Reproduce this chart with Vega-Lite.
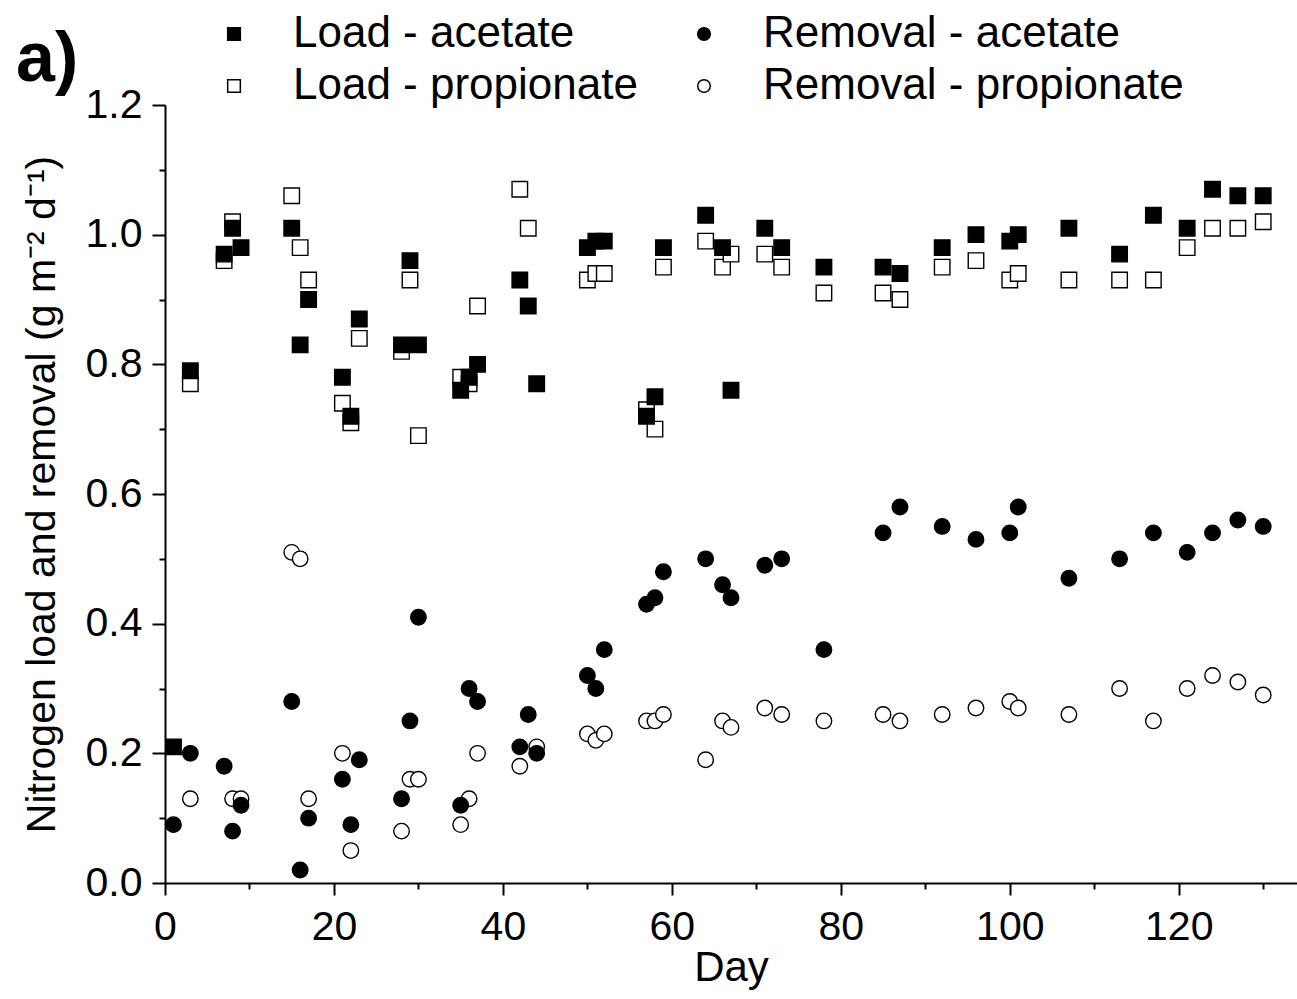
{
  "$schema": "https://vega.github.io/schema/vega-lite/v6.json",
  "width": 1132,
  "height": 778,
  "autosize": {"type": "none"},
  "padding": {"left": 165, "top": 105, "right": 0, "bottom": 116},
  "config": {
    "view": {"stroke": null},
    "font": "Liberation Sans",
    "axis": {
      "grid": false,
      "domainColor": "black",
      "domainWidth": 2,
      "tickColor": "black",
      "tickWidth": 2,
      "labelColor": "black",
      "titleColor": "black",
      "labelFont": "Liberation Sans",
      "titleFont": "Liberation Sans",
      "titleFontWeight": "normal",
      "labelOverlap": false,
      "labelFlush": false
    }
  },
  "data": {
    "values": [
      {"day": 3, "value": 0.77, "series": "Load - propionate"},
      {"day": 7, "value": 0.96, "series": "Load - propionate"},
      {"day": 8, "value": 1.02, "series": "Load - propionate"},
      {"day": 15, "value": 1.06, "series": "Load - propionate"},
      {"day": 16, "value": 0.98, "series": "Load - propionate"},
      {"day": 17, "value": 0.93, "series": "Load - propionate"},
      {"day": 21, "value": 0.74, "series": "Load - propionate"},
      {"day": 22, "value": 0.71, "series": "Load - propionate"},
      {"day": 23, "value": 0.84, "series": "Load - propionate"},
      {"day": 28, "value": 0.82, "series": "Load - propionate"},
      {"day": 29, "value": 0.93, "series": "Load - propionate"},
      {"day": 30, "value": 0.69, "series": "Load - propionate"},
      {"day": 35, "value": 0.78, "series": "Load - propionate"},
      {"day": 36, "value": 0.77, "series": "Load - propionate"},
      {"day": 37, "value": 0.89, "series": "Load - propionate"},
      {"day": 42, "value": 1.07, "series": "Load - propionate"},
      {"day": 43, "value": 1.01, "series": "Load - propionate"},
      {"day": 50, "value": 0.93, "series": "Load - propionate"},
      {"day": 51, "value": 0.94, "series": "Load - propionate"},
      {"day": 52, "value": 0.94, "series": "Load - propionate"},
      {"day": 57, "value": 0.73, "series": "Load - propionate"},
      {"day": 58, "value": 0.70, "series": "Load - propionate"},
      {"day": 59, "value": 0.95, "series": "Load - propionate"},
      {"day": 64, "value": 0.99, "series": "Load - propionate"},
      {"day": 66, "value": 0.95, "series": "Load - propionate"},
      {"day": 67, "value": 0.97, "series": "Load - propionate"},
      {"day": 71, "value": 0.97, "series": "Load - propionate"},
      {"day": 73, "value": 0.95, "series": "Load - propionate"},
      {"day": 78, "value": 0.91, "series": "Load - propionate"},
      {"day": 85, "value": 0.91, "series": "Load - propionate"},
      {"day": 87, "value": 0.90, "series": "Load - propionate"},
      {"day": 92, "value": 0.95, "series": "Load - propionate"},
      {"day": 96, "value": 0.96, "series": "Load - propionate"},
      {"day": 100, "value": 0.93, "series": "Load - propionate"},
      {"day": 101, "value": 0.94, "series": "Load - propionate"},
      {"day": 107, "value": 0.93, "series": "Load - propionate"},
      {"day": 113, "value": 0.93, "series": "Load - propionate"},
      {"day": 117, "value": 0.93, "series": "Load - propionate"},
      {"day": 121, "value": 0.98, "series": "Load - propionate"},
      {"day": 124, "value": 1.01, "series": "Load - propionate"},
      {"day": 127, "value": 1.01, "series": "Load - propionate"},
      {"day": 130, "value": 1.02, "series": "Load - propionate"},

      {"day": 3, "value": 0.13, "series": "Removal - propionate"},
      {"day": 8, "value": 0.13, "series": "Removal - propionate"},
      {"day": 9, "value": 0.13, "series": "Removal - propionate"},
      {"day": 15, "value": 0.51, "series": "Removal - propionate"},
      {"day": 16, "value": 0.50, "series": "Removal - propionate"},
      {"day": 17, "value": 0.13, "series": "Removal - propionate"},
      {"day": 21, "value": 0.20, "series": "Removal - propionate"},
      {"day": 22, "value": 0.05, "series": "Removal - propionate"},
      {"day": 28, "value": 0.08, "series": "Removal - propionate"},
      {"day": 29, "value": 0.16, "series": "Removal - propionate"},
      {"day": 30, "value": 0.16, "series": "Removal - propionate"},
      {"day": 35, "value": 0.09, "series": "Removal - propionate"},
      {"day": 36, "value": 0.13, "series": "Removal - propionate"},
      {"day": 37, "value": 0.20, "series": "Removal - propionate"},
      {"day": 42, "value": 0.18, "series": "Removal - propionate"},
      {"day": 44, "value": 0.21, "series": "Removal - propionate"},
      {"day": 50, "value": 0.23, "series": "Removal - propionate"},
      {"day": 51, "value": 0.22, "series": "Removal - propionate"},
      {"day": 52, "value": 0.23, "series": "Removal - propionate"},
      {"day": 57, "value": 0.25, "series": "Removal - propionate"},
      {"day": 58, "value": 0.25, "series": "Removal - propionate"},
      {"day": 59, "value": 0.26, "series": "Removal - propionate"},
      {"day": 64, "value": 0.19, "series": "Removal - propionate"},
      {"day": 66, "value": 0.25, "series": "Removal - propionate"},
      {"day": 67, "value": 0.24, "series": "Removal - propionate"},
      {"day": 71, "value": 0.27, "series": "Removal - propionate"},
      {"day": 73, "value": 0.26, "series": "Removal - propionate"},
      {"day": 78, "value": 0.25, "series": "Removal - propionate"},
      {"day": 85, "value": 0.26, "series": "Removal - propionate"},
      {"day": 87, "value": 0.25, "series": "Removal - propionate"},
      {"day": 92, "value": 0.26, "series": "Removal - propionate"},
      {"day": 96, "value": 0.27, "series": "Removal - propionate"},
      {"day": 100, "value": 0.28, "series": "Removal - propionate"},
      {"day": 101, "value": 0.27, "series": "Removal - propionate"},
      {"day": 107, "value": 0.26, "series": "Removal - propionate"},
      {"day": 113, "value": 0.30, "series": "Removal - propionate"},
      {"day": 117, "value": 0.25, "series": "Removal - propionate"},
      {"day": 121, "value": 0.30, "series": "Removal - propionate"},
      {"day": 124, "value": 0.32, "series": "Removal - propionate"},
      {"day": 127, "value": 0.31, "series": "Removal - propionate"},
      {"day": 130, "value": 0.29, "series": "Removal - propionate"},

      {"day": 1, "value": 0.21, "series": "Load - acetate"},
      {"day": 3, "value": 0.79, "series": "Load - acetate"},
      {"day": 7, "value": 0.97, "series": "Load - acetate"},
      {"day": 8, "value": 1.01, "series": "Load - acetate"},
      {"day": 9, "value": 0.98, "series": "Load - acetate"},
      {"day": 15, "value": 1.01, "series": "Load - acetate"},
      {"day": 16, "value": 0.83, "series": "Load - acetate"},
      {"day": 17, "value": 0.90, "series": "Load - acetate"},
      {"day": 21, "value": 0.78, "series": "Load - acetate"},
      {"day": 22, "value": 0.72, "series": "Load - acetate"},
      {"day": 23, "value": 0.87, "series": "Load - acetate"},
      {"day": 28, "value": 0.83, "series": "Load - acetate"},
      {"day": 29, "value": 0.96, "series": "Load - acetate"},
      {"day": 30, "value": 0.83, "series": "Load - acetate"},
      {"day": 35, "value": 0.76, "series": "Load - acetate"},
      {"day": 36, "value": 0.78, "series": "Load - acetate"},
      {"day": 37, "value": 0.80, "series": "Load - acetate"},
      {"day": 42, "value": 0.93, "series": "Load - acetate"},
      {"day": 43, "value": 0.89, "series": "Load - acetate"},
      {"day": 44, "value": 0.77, "series": "Load - acetate"},
      {"day": 50, "value": 0.98, "series": "Load - acetate"},
      {"day": 51, "value": 0.99, "series": "Load - acetate"},
      {"day": 52, "value": 0.99, "series": "Load - acetate"},
      {"day": 57, "value": 0.72, "series": "Load - acetate"},
      {"day": 58, "value": 0.75, "series": "Load - acetate"},
      {"day": 59, "value": 0.98, "series": "Load - acetate"},
      {"day": 64, "value": 1.03, "series": "Load - acetate"},
      {"day": 66, "value": 0.98, "series": "Load - acetate"},
      {"day": 67, "value": 0.76, "series": "Load - acetate"},
      {"day": 71, "value": 1.01, "series": "Load - acetate"},
      {"day": 73, "value": 0.98, "series": "Load - acetate"},
      {"day": 78, "value": 0.95, "series": "Load - acetate"},
      {"day": 85, "value": 0.95, "series": "Load - acetate"},
      {"day": 87, "value": 0.94, "series": "Load - acetate"},
      {"day": 92, "value": 0.98, "series": "Load - acetate"},
      {"day": 96, "value": 1.00, "series": "Load - acetate"},
      {"day": 100, "value": 0.99, "series": "Load - acetate"},
      {"day": 101, "value": 1.00, "series": "Load - acetate"},
      {"day": 107, "value": 1.01, "series": "Load - acetate"},
      {"day": 113, "value": 0.97, "series": "Load - acetate"},
      {"day": 117, "value": 1.03, "series": "Load - acetate"},
      {"day": 121, "value": 1.01, "series": "Load - acetate"},
      {"day": 124, "value": 1.07, "series": "Load - acetate"},
      {"day": 127, "value": 1.06, "series": "Load - acetate"},
      {"day": 130, "value": 1.06, "series": "Load - acetate"},

      {"day": 1, "value": 0.09, "series": "Removal - acetate"},
      {"day": 3, "value": 0.20, "series": "Removal - acetate"},
      {"day": 7, "value": 0.18, "series": "Removal - acetate"},
      {"day": 8, "value": 0.08, "series": "Removal - acetate"},
      {"day": 9, "value": 0.12, "series": "Removal - acetate"},
      {"day": 15, "value": 0.28, "series": "Removal - acetate"},
      {"day": 16, "value": 0.02, "series": "Removal - acetate"},
      {"day": 17, "value": 0.10, "series": "Removal - acetate"},
      {"day": 21, "value": 0.16, "series": "Removal - acetate"},
      {"day": 22, "value": 0.09, "series": "Removal - acetate"},
      {"day": 23, "value": 0.19, "series": "Removal - acetate"},
      {"day": 28, "value": 0.13, "series": "Removal - acetate"},
      {"day": 29, "value": 0.25, "series": "Removal - acetate"},
      {"day": 30, "value": 0.41, "series": "Removal - acetate"},
      {"day": 35, "value": 0.12, "series": "Removal - acetate"},
      {"day": 36, "value": 0.30, "series": "Removal - acetate"},
      {"day": 37, "value": 0.28, "series": "Removal - acetate"},
      {"day": 42, "value": 0.21, "series": "Removal - acetate"},
      {"day": 43, "value": 0.26, "series": "Removal - acetate"},
      {"day": 44, "value": 0.20, "series": "Removal - acetate"},
      {"day": 50, "value": 0.32, "series": "Removal - acetate"},
      {"day": 51, "value": 0.30, "series": "Removal - acetate"},
      {"day": 52, "value": 0.36, "series": "Removal - acetate"},
      {"day": 57, "value": 0.43, "series": "Removal - acetate"},
      {"day": 58, "value": 0.44, "series": "Removal - acetate"},
      {"day": 59, "value": 0.48, "series": "Removal - acetate"},
      {"day": 64, "value": 0.50, "series": "Removal - acetate"},
      {"day": 66, "value": 0.46, "series": "Removal - acetate"},
      {"day": 67, "value": 0.44, "series": "Removal - acetate"},
      {"day": 71, "value": 0.49, "series": "Removal - acetate"},
      {"day": 73, "value": 0.50, "series": "Removal - acetate"},
      {"day": 78, "value": 0.36, "series": "Removal - acetate"},
      {"day": 85, "value": 0.54, "series": "Removal - acetate"},
      {"day": 87, "value": 0.58, "series": "Removal - acetate"},
      {"day": 92, "value": 0.55, "series": "Removal - acetate"},
      {"day": 96, "value": 0.53, "series": "Removal - acetate"},
      {"day": 100, "value": 0.54, "series": "Removal - acetate"},
      {"day": 101, "value": 0.58, "series": "Removal - acetate"},
      {"day": 107, "value": 0.47, "series": "Removal - acetate"},
      {"day": 113, "value": 0.50, "series": "Removal - acetate"},
      {"day": 117, "value": 0.54, "series": "Removal - acetate"},
      {"day": 121, "value": 0.51, "series": "Removal - acetate"},
      {"day": 124, "value": 0.54, "series": "Removal - acetate"},
      {"day": 127, "value": 0.56, "series": "Removal - acetate"},
      {"day": 130, "value": 0.55, "series": "Removal - acetate"}
    ]
  },
  "mark": {"type": "point", "size": 240, "stroke": "black", "strokeWidth": 1.4, "opacity": 1},
  "encoding": {
    "x": {
      "field": "day",
      "type": "quantitative",
      "scale": {"domain": [0, 134], "nice": false, "zero": false},
      "axis": {
        "title": "Day",
        "titleFontSize": 42,
        "titlePadding": 0,
        "values": [0, 10, 20, 30, 40, 50, 60, 70, 80, 90, 100, 110, 120, 130],
        "labelExpr": "datum.value % 20 === 0 ? datum.label : ''",
        "labelFontSize": 41,
        "labelPadding": 12,
        "tickSize": {"condition": {"test": "datum.value % 20 === 0", "value": 12}, "value": 6}
      }
    },
    "y": {
      "field": "value",
      "type": "quantitative",
      "scale": {"domain": [0, 1.2], "nice": false},
      "axis": {
        "title": "Nitrogen load and removal (g m⁻² d⁻¹)",
        "titleFontSize": 41,
        "titlePadding": 22,
        "values": [0, 0.1, 0.2, 0.3, 0.4, 0.5, 0.6, 0.7, 0.8, 0.9, 1.0, 1.1, 1.2],
        "labelExpr": "round(datum.value * 10) % 2 === 0 ? format(datum.value, '.1f') : ''",
        "labelFontSize": 41,
        "labelPadding": 10,
        "tickSize": {"condition": {"test": "round(datum.value * 10) % 2 === 0", "value": 13}, "value": 6}
      }
    },
    "shape": {
      "field": "series",
      "type": "nominal",
      "scale": {
        "domain": ["Load - acetate", "Load - propionate", "Removal - acetate", "Removal - propionate"],
        "range": ["square", "square", "circle", "circle"]
      },
      "legend": {
        "title": "a)",
        "orient": "none",
        "legendX": -149,
        "legendY": -93,
        "columns": 2,
        "padding": 0,
        "labelFont": "Liberation Sans",
        "labelFontSize": 44,
        "labelColor": "black",
        "labelLimit": 0,
        "labelOffset": 37,
        "columnPadding": 44,
        "rowPadding": 8,
        "symbolSize": 160,
        "symbolOpacity": 1,
        "titleOrient": "left",
        "titleFont": "Liberation Sans",
        "titleFontSize": 70,
        "titleFontWeight": "bold",
        "titleColor": "black",
        "titlePadding": 133,
        "titleAnchor": "middle",
        "titleBaseline": "middle",
        "encode": {"symbols": {"update": {"stroke": {"value": "black"}, "strokeWidth": {"value": 1.2}}}}
      }
    },
    "fill": {
      "field": "series",
      "type": "nominal",
      "scale": {
        "domain": ["Load - acetate", "Load - propionate", "Removal - acetate", "Removal - propionate"],
        "range": ["black", "white", "black", "white"]
      },
      "legend": {
        "title": "a)",
        "orient": "none",
        "legendX": -149,
        "legendY": -93,
        "columns": 2,
        "padding": 0,
        "labelFont": "Liberation Sans",
        "labelFontSize": 44,
        "labelColor": "black",
        "labelLimit": 0,
        "labelOffset": 37,
        "columnPadding": 44,
        "rowPadding": 8,
        "symbolSize": 160,
        "symbolOpacity": 1,
        "titleOrient": "left",
        "titleFont": "Liberation Sans",
        "titleFontSize": 70,
        "titleFontWeight": "bold",
        "titleColor": "black",
        "titlePadding": 133,
        "titleAnchor": "middle",
        "titleBaseline": "middle",
        "encode": {"symbols": {"update": {"stroke": {"value": "black"}, "strokeWidth": {"value": 1.2}}}}
      }
    }
  }
}
